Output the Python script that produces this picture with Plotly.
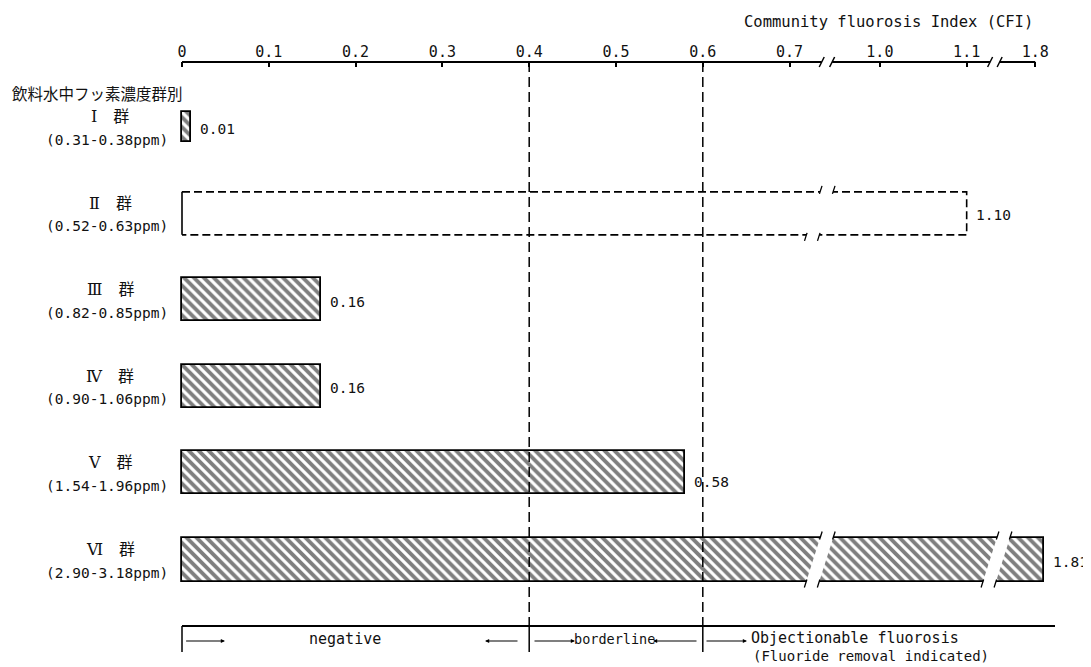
import plotly.graph_objects as go

# ---------------- data ----------------
group_numerals = ["Ⅰ", "Ⅱ", "Ⅲ", "Ⅳ", "Ⅴ", "Ⅵ"]
group_ranges = ["(0.31-0.38ppm)", "(0.52-0.63ppm)", "(0.82-0.85ppm)",
                "(0.90-1.06ppm)", "(1.54-1.96ppm)", "(2.90-3.18ppm)"]
cfi_values = [0.01, 1.10, 0.16, 0.16, 0.58, 1.81]
hatched = [True, False, True, True, True, True]
tick_values = [0, 0.1, 0.2, 0.3, 0.4, 0.5, 0.6, 0.7, 1.0, 1.1, 1.8]
tick_labels = ["0", "0.1", "0.2", "0.3", "0.4", "0.5", "0.6", "0.7", "1.0", "1.1", "1.8"]
thresholds = [0.4, 0.6]
axis_title = "Community fluorosis Index (CFI)"
header = "飲料水中フッ素濃度群別"
zone_labels = ["negative", "borderline", "Objectionable fluorosis", "(Fluoride removal indicated)"]

# ---------------- broken axis mapping ----------------
# (value_lo, value_hi, offset) : display = value - offset
segments = [(0.0, 0.737, 0.0), (0.945, 1.127, 0.196), (1.759, 1.83, 0.817)]


def disp(v):
    for lo, hi, off in segments:
        if v <= hi:
            return max(v, lo) - off
    return v - segments[-1][2]


# ---------------- geometry helpers (screen pixels) ----------------
SW, SH = 1091, 667               # window
OFF = 8                           # page body margin
W, H = SW - OFF, SH - OFF         # figure size
X0PX, XS = 182.0, 868.0          # screen pixel of display 0, pixels per display unit
Y0PX, YS = 126.8, 86.54          # screen pixel of first category, pixels per category
TOP = 62.0                        # screen y of plot-area top (axis line)


def ydat(p):
    return (p - Y0PX) / YS


def ypap(p):
    return (SH - p) / (SH - TOP)


def xd(px):
    return (px - X0PX) / XS


def xpap(px):
    return (px - OFF) / W


bar_px = [30, 43, 43, 43, 43, 44]
bar_w = [b / YS for b in bar_px]

MONO = "DejaVu Sans Mono"
CJK = "Noto Sans CJK JP"
SERIF = "DejaVu Serif, Noto Sans CJK JP"
INK = "#111111"

fig = go.Figure()

hatch = dict(shape="\\", size=7, solidity=0.55, fgcolor="black", bgcolor="white")
idx_h = [i for i in range(len(cfi_values)) if hatched[i]]
fig.add_trace(go.Bar(
    x=[disp(cfi_values[i]) for i in idx_h], y=idx_h, width=[bar_w[i] for i in idx_h],
    orientation="h",
    marker=dict(color="white", line=dict(color="black", width=1.8), pattern=hatch),
    hoverinfo="skip", showlegend=False))

idx_o = [i for i in range(len(cfi_values)) if not hatched[i]]
fig.add_trace(go.Bar(
    x=[disp(cfi_values[i]) for i in idx_o], y=idx_o, width=[bar_w[i] for i in idx_o],
    orientation="h", marker=dict(color="rgba(255,255,255,0)", line=dict(width=0)),
    hoverinfo="skip", showlegend=False))

# dashed outlines for open bars
for i in idx_o:
    d = disp(cfi_values[i])
    t, b = i - bar_w[i] / 2, i + bar_w[i] / 2
    fig.add_trace(go.Scatter(x=[0, d, d, 0], y=[t, t, b, b], mode="lines",
                             line=dict(color="black", width=1.6, dash="8px,4px"),
                             hoverinfo="skip", showlegend=False))
    fig.add_trace(go.Scatter(x=[0, 0], y=[t, b], mode="lines",
                             line=dict(color="black", width=1.6),
                             hoverinfo="skip", showlegend=False))

shapes = []
annotations = []

# break bands through long bars
band_centers = [xd(819.75), xd(996.5)]
band_hw = 6.5 / XS
slant = (14.0 / 44.0) * YS / XS   # x display units per y unit (top is right)
ext = 2.5 / YS
for i, v in enumerate(cfi_values):
    d = disp(v)
    for dc in band_centers:
        if d <= dc + 0.01:
            continue
        h2 = bar_w[i] / 2
        yt, yb = i - h2 - ext, i + h2 + ext

        def xe(y, sgn, dc=dc, i=i):
            return dc + sgn * band_hw + slant * (i - y)
        path = "M {} {} L {} {} L {} {} L {} {} Z".format(
            xe(yt, -1), yt, xe(yt, 1), yt, xe(yb, 1), yb, xe(yb, -1), yb)
        shapes.append(dict(type="path", path=path, xref="x", yref="y",
                           fillcolor="white", line=dict(width=0), layer="above"))
        for edge, out in ((i - h2, -1), (i + h2, 1)):
            y_in = edge - out * 2.0 / YS
            y_out = edge + out * 6.0 / YS
            for sgn in (-1, 1):
                shapes.append(dict(type="line", xref="x", yref="y",
                                   x0=xe(y_in, sgn), y0=y_in, x1=xe(y_out, sgn), y1=y_out,
                                   line=dict(color="black", width=1.3), layer="above"))

# top axis line segments with break slashes
for k, (lo, hi, off) in enumerate(segments):
    a = disp(lo) if k > 0 else 0.0
    b = min(hi, tick_values[-1]) - off
    shapes.append(dict(type="line", xref="x", yref="paper", x0=a, x1=b, y0=1, y1=1,
                       line=dict(color="black", width=2)))
    ends = []
    if k > 0:
        ends.append(a)
    if k < len(segments) - 1:
        ends.append(b)
    for e in ends:
        shapes.append(dict(type="line", xref="x", yref="paper",
                           x0=e - 2.5 / XS, y0=ypap(TOP + 5), x1=e + 2.5 / XS, y1=ypap(TOP - 5),
                           line=dict(color="black", width=1.5)))

# threshold dashed lines
BOT = 626.0
for t in thresholds:
    shapes.append(dict(type="line", xref="x", yref="paper", x0=disp(t), x1=disp(t),
                       y0=1, y1=ypap(BOT), line=dict(color="black", width=1.5, dash="10px,5px")))

# bottom classification scale
shapes.append(dict(type="line", xref="x", yref="paper", x0=0, x1=xd(1055), y0=ypap(BOT), y1=ypap(BOT),
                   line=dict(color="black", width=2)))
for t in [0] + thresholds:
    shapes.append(dict(type="line", xref="x", yref="paper", x0=disp(t), x1=disp(t),
                       y0=ypap(BOT), y1=ypap(BOT + 26), line=dict(color="black", width=1.5)))

ROW = 639.0
arrows = [(0.003, xd(225)), (xd(519), xd(485)), (xd(533), xd(575)), (xd(698), xd(653)), (xd(705), xd(747))]
for tail, head in arrows:
    annotations.append(dict(x=head, y=ydat(ROW + 2), xref="x", yref="y", text="",
                            showarrow=True, axref="x", ax=tail, ayref="pixel", ay=0,
                            arrowhead=2, arrowsize=0.7, arrowwidth=1.2, arrowcolor="black"))
annotations.append(dict(x=xd(345), y=ydat(ROW), xref="x", yref="y", text=zone_labels[0],
                        xanchor="center", yanchor="middle",
                        showarrow=False, font=dict(family=MONO, size=15, color=INK)))
annotations.append(dict(x=xd(614), y=ydat(ROW), xref="x", yref="y", text=zone_labels[1],
                        xanchor="center", yanchor="middle",
                        showarrow=False, font=dict(family=MONO, size=13.5, color=INK)))
annotations.append(dict(x=xd(749), y=ydat(ROW - 1), xref="x", yref="y", text=zone_labels[2],
                        xanchor="left", yanchor="middle",
                        showarrow=False, font=dict(family=MONO, size=15, color=INK)))
annotations.append(dict(x=xd(751), y=ydat(ROW + 17), xref="x", yref="y", text=zone_labels[3],
                        xanchor="left", yanchor="middle",
                        showarrow=False, font=dict(family=MONO, size=14, color=INK)))

# category labels
for i in range(len(cfi_values)):
    annotations.append(dict(x=xpap(110), y=i, xref="paper", yref="y", yshift=10,
                            xanchor="center", yanchor="middle",
                            text=group_numerals[i] + "　群", showarrow=False,
                            font=dict(family=SERIF, size=16, color=INK)))
    annotations.append(dict(x=xpap(107), y=i, xref="paper", yref="y", yshift=-13,
                            xanchor="center", yanchor="middle",
                            text=group_ranges[i], showarrow=False,
                            font=dict(family=MONO, size=14.5, color=INK)))

# value labels
for i, v in enumerate(cfi_values):
    annotations.append(dict(x=disp(v), y=i, xref="x", yref="y", xanchor="left", yanchor="middle",
                            xshift=7, yshift=(-9 if i == 4 else -2), text="{:.2f}".format(v),
                            showarrow=False, font=dict(family=MONO, size=14.5, color=INK)))

annotations.append(dict(x=xpap(888), y=ypap(22), xref="paper", yref="paper", text=axis_title,
                        xanchor="center", yanchor="middle",
                        showarrow=False, font=dict(family=MONO, size=15.5, color=INK)))
annotations.append(dict(x=xpap(10), y=ypap(93), xref="paper", yref="paper", text=header,
                        xanchor="left", yanchor="middle",
                        showarrow=False, font=dict(family=CJK, size=15.5, color=INK)))

fig.update_layout(
    width=W, height=H, margin=dict(l=0, r=0, t=TOP - OFF, b=0),
    paper_bgcolor="white", plot_bgcolor="white",
    shapes=shapes, annotations=annotations, bargap=0,
    xaxis=dict(range=[xd(OFF), xd(SW)], side="top", tickmode="array",
               tickvals=[disp(v) for v in tick_values], ticktext=tick_labels,
               ticks="inside", ticklen=5, tickwidth=1.5, tickcolor="black",
               showline=False, showgrid=False, zeroline=False, fixedrange=True,
               tickfont=dict(family=MONO, size=15, color=INK), ticklabelstandoff=1),
    yaxis=dict(range=[ydat(SH), ydat(TOP)], visible=False, showgrid=False, zeroline=False,
               fixedrange=True),
)

fig.write_html("out.html")
